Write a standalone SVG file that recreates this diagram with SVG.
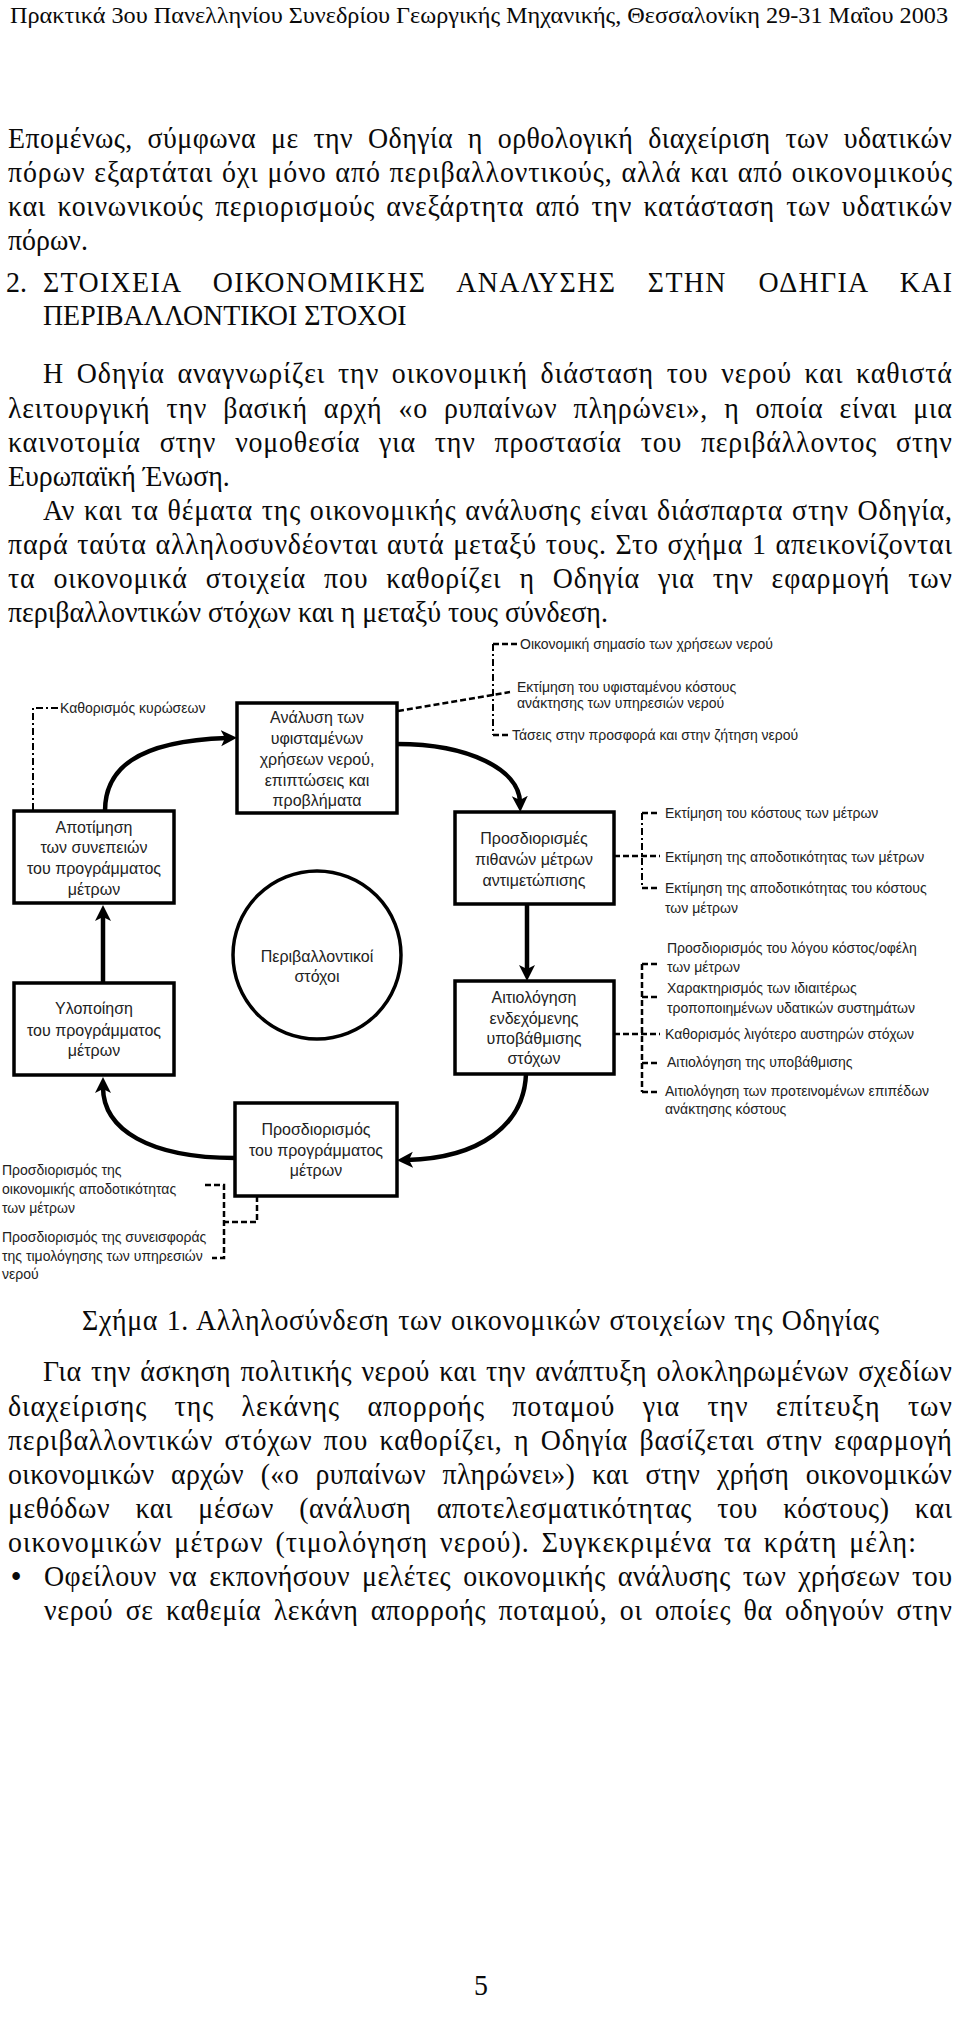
<svg xmlns="http://www.w3.org/2000/svg" width="960" height="2037" viewBox="0 0 960 2037">
<style>
.body{font-family:"Liberation Serif","Times New Roman",serif;font-size:30px;fill:#0a0a0a}
.hdr{font-family:"Liberation Serif","Times New Roman",serif;font-size:23px;fill:#0a0a0a}
.box{fill:#fff;stroke:#000;stroke-width:3.5}
.bt{font-family:"Liberation Sans",Arial,sans-serif;font-size:16px;fill:#222;text-anchor:middle}
.lb{font-family:"Liberation Sans",Arial,sans-serif;font-size:14px;fill:#222}
.arr{fill:none;stroke:#000;stroke-width:4.5;marker-end:url(#ah)}
.dash{fill:none;stroke:#000;stroke-width:2.5;stroke-dasharray:6 3}
.dd{fill:none;stroke:#000;stroke-width:2;stroke-dasharray:7 3 2 3}
</style>
<defs>
<marker id="ah" markerUnits="userSpaceOnUse" markerWidth="18" markerHeight="18" refX="6" refY="8" orient="auto">
<path d="M0,0 L16,8 L0,16 L4,8 z" fill="#000"/>
</marker>
</defs>
<rect width="960" height="2037" fill="#fff"/>

<g id="header">
<text class="hdr" x="10" y="23" textLength="938" lengthAdjust="spacingAndGlyphs">Πρακτικά 3ου Πανελληνίου Συνεδρίου Γεωργικής Μηχανικής, Θεσσαλονίκη 29-31 Μαΐου 2003</text>
</g>

<g id="para1" class="body" transform="scale(0.93,1)">
<text x="8.6" y="148" textLength="1015" lengthAdjust="spacing" word-spacing="8">Επομένως, σύμφωνα με την Οδηγία η ορθολογική διαχείριση των υδατικών</text>
<text x="8.6" y="182" textLength="1015" lengthAdjust="spacing" word-spacing="1">πόρων εξαρτάται όχι μόνο από περιβαλλοντικούς, αλλά και από οικονομικούς</text>
<text x="8.6" y="216" textLength="1015" lengthAdjust="spacing" word-spacing="4">και κοινωνικούς περιορισμούς ανεξάρτητα από την κατάσταση των υδατικών</text>
<text x="8.6" y="250">πόρων.</text>
</g>

<g id="heading" class="body" transform="scale(0.93,1)">
<text x="6.5" y="292">2.</text>
<text x="46.2" y="292" textLength="977.4" lengthAdjust="spacing" word-spacing="25">ΣΤΟΙΧΕΙΑ ΟΙΚΟΝΟΜΙΚΗΣ ΑΝΑΛΥΣΗΣ ΣΤΗΝ ΟΔΗΓΙΑ ΚΑΙ</text>
<text x="46.2" y="325">ΠΕΡΙΒΑΛΛΟΝΤΙΚΟΙ ΣΤΟΧΟΙ</text>
</g>

<g id="para2" class="body" transform="scale(0.93,1)">
<text x="46.2" y="383" textLength="977.4" lengthAdjust="spacing" word-spacing="5">Η Οδηγία αναγνωρίζει την οικονομική διάσταση του νερού και καθιστά</text>
<text x="8.6" y="418" textLength="1015" lengthAdjust="spacing" word-spacing="9">λειτουργική την βασική αρχή «ο ρυπαίνων πληρώνει», η οποία είναι μια</text>
<text x="8.6" y="452" textLength="1015" lengthAdjust="spacing" word-spacing="12">καινοτομία στην νομοθεσία για την προστασία του περιβάλλοντος στην</text>
<text x="8.6" y="486">Ευρωπαϊκή Ένωση.</text>
<text x="46.2" y="520" textLength="977.4" lengthAdjust="spacing" word-spacing="1">Αν και τα θέματα της οικονομικής ανάλυσης είναι διάσπαρτα στην Οδηγία,</text>
<text x="8.6" y="554" textLength="1015" lengthAdjust="spacing" word-spacing="1">παρά ταύτα  αλληλοσυνδέονται αυτά μεταξύ τους. Στο σχήμα 1 απεικονίζονται</text>
<text x="8.6" y="588" textLength="1015" lengthAdjust="spacing" word-spacing="11">τα οικονομικά στοιχεία που καθορίζει η Οδηγία για την εφαρμογή των</text>
<text x="8.6" y="622">περιβαλλοντικών στόχων και η μεταξύ τους σύνδεση.</text>
</g>

<g id="connectors">
<path class="arr" d="M105,811 C105,770 135,741 227,738"/>
<path class="arr" d="M397,744 C470,744 519,770 520,802"/>
<path class="arr" d="M527,904 L527,971"/>
<path class="arr" d="M526,1074 C524,1125 480,1158 407,1160"/>
<path class="arr" d="M235,1158 C150,1158 103,1130 103,1087"/>
<path class="arr" d="M103,983 L103,915"/>
<path class="dd" d="M33,810 L33,708 L58,708"/>
<path class="dash" d="M398,711 L510,692"/>
<path class="dd" d="M493,644 L493,735"/>
<path class="dash" d="M493,644 L517,644"/>
<path class="dash" d="M493,735 L510,735"/>
<path class="dash" d="M614,856 L660,856"/>
<path class="dd" d="M642,813 L642,888"/>
<path class="dash" d="M642,813 L660,813"/>
<path class="dash" d="M642,888 L660,888"/>
<path class="dash" d="M614,1034 L660,1034"/>
<path class="dash" d="M642,964 L642,1092"/>
<path class="dash" d="M642,964 L658,964"/>
<path class="dash" d="M642,997 L658,997"/>
<path class="dash" d="M642,1063 L658,1063"/>
<path class="dash" d="M642,1092 L658,1092"/>
<path class="dash" d="M205,1185 L224,1185 L224,1258 L212,1258"/>
<path class="dash" d="M257,1196 L257,1222 L224,1222"/>
</g>

<g id="node-analysi">
<rect class="box" x="237" y="703" width="160" height="110"/>
<text class="bt" x="317" y="723">Ανάλυση των</text>
<text class="bt" x="317" y="744">υφισταμένων</text>
<text class="bt" x="317" y="765">χρήσεων νερού,</text>
<text class="bt" x="317" y="786">επιπτώσεις και</text>
<text class="bt" x="317" y="806">προβλήματα</text>
</g>

<g id="node-apotimisi">
<rect class="box" x="14" y="811" width="160" height="92"/>
<text class="bt" x="94" y="833">Αποτίμηση</text>
<text class="bt" x="94" y="853">των συνεπειών</text>
<text class="bt" x="94" y="874">του προγράμματος</text>
<text class="bt" x="94" y="895">μέτρων</text>
</g>

<g id="node-prosdiorismes">
<rect class="box" x="455" y="812" width="159" height="92"/>
<text class="bt" x="534" y="844">Προσδιορισμές</text>
<text class="bt" x="534" y="865">πιθανών μέτρων</text>
<text class="bt" x="534" y="886">αντιμετώπισης</text>
</g>

<g id="node-stoxoi">
<circle cx="317" cy="955" r="84" fill="#fff" stroke="#000" stroke-width="3.5"/>
<text class="bt" x="317" y="962">Περιβαλλοντικοί</text>
<text class="bt" x="317" y="982">στόχοι</text>
</g>

<g id="node-ylopoiisi">
<rect class="box" x="14" y="983" width="160" height="92"/>
<text class="bt" x="94" y="1014">Υλοποίηση</text>
<text class="bt" x="94" y="1036">του προγράμματος</text>
<text class="bt" x="94" y="1056">μέτρων</text>
</g>

<g id="node-aitiologisi">
<rect class="box" x="455" y="981" width="159" height="93"/>
<text class="bt" x="534" y="1003">Αιτιολόγηση</text>
<text class="bt" x="534" y="1024">ενδεχόμενης</text>
<text class="bt" x="534" y="1044">υποβάθμισης</text>
<text class="bt" x="534" y="1064">στόχων</text>
</g>

<g id="node-programma">
<rect class="box" x="235" y="1103" width="162" height="93"/>
<text class="bt" x="316" y="1135">Προσδιορισμός</text>
<text class="bt" x="316" y="1156">του προγράμματος</text>
<text class="bt" x="316" y="1176">μέτρων</text>
</g>

<g id="labels" class="lb">
<text x="60" y="713">Καθορισμός κυρώσεων</text>
<text x="520" y="649">Οικονομική σημασίο των χρήσεων νερού</text>
<text x="517" y="692">Εκτίμηση του υφισταμένου κόστους</text>
<text x="517" y="708">ανάκτησης των υπηρεσιών νερού</text>
<text x="512" y="740">Τάσεις στην προσφορά και στην ζήτηση νερού</text>
<text x="665" y="818">Εκτίμηση του κόστους των μέτρων</text>
<text x="665" y="862">Εκτίμηση της αποδοτικότητας των μέτρων</text>
<text x="665" y="893">Εκτίμηση της αποδοτικότητας του κόστους</text>
<text x="665" y="913">των μέτρων</text>
<text x="667" y="953">Προσδιορισμός του λόγου κόστος/οφέλη</text>
<text x="667" y="972">των μέτρων</text>
<text x="667" y="993">Χαρακτηρισμός των ιδιαιτέρως</text>
<text x="667" y="1013">τροποποιημένων υδατικών συστημάτων</text>
<text x="665" y="1039">Καθορισμός λιγότερο αυστηρών στόχων</text>
<text x="667" y="1067">Αιτιολόγηση της υποβάθμισης</text>
<text x="665" y="1096">Αιτιολόγηση των προτεινομένων επιπέδων</text>
<text x="665" y="1114">ανάκτησης κόστους</text>
<text x="2" y="1175">Προσδιορισμός της</text>
<text x="2" y="1194">οικονομικής αποδοτικότητας</text>
<text x="2" y="1213">των μέτρων</text>
<text x="2" y="1242">Προσδιορισμός της συνεισφοράς</text>
<text x="2" y="1261">της τιμολόγησης των υπηρεσιών</text>
<text x="2" y="1279">νερού</text>
</g>

<g id="caption" class="body" transform="scale(0.93,1)">
<text x="88.2" y="1330" textLength="857" lengthAdjust="spacing" word-spacing="1">Σχήμα 1.  Αλληλοσύνδεση των οικονομικών στοιχείων της Οδηγίας</text>
</g>

<g id="para3" class="body" transform="scale(0.93,1)">
<text x="46.2" y="1381" textLength="977.4" lengthAdjust="spacing" word-spacing="2">Για την άσκηση πολιτικής νερού και την ανάπτυξη ολοκληρωμένων σχεδίων</text>
<text x="8.6" y="1416" textLength="1015" lengthAdjust="spacing" word-spacing="21">διαχείρισης της λεκάνης απορροής ποταμού για την επίτευξη των</text>
<text x="8.6" y="1450" textLength="1015" lengthAdjust="spacing" word-spacing="4">περιβαλλοντικών στόχων που καθορίζει, η Οδηγία βασίζεται στην εφαρμογή</text>
<text x="8.6" y="1484" textLength="1015" lengthAdjust="spacing" word-spacing="10">οικονομικών αρχών («ο ρυπαίνων πληρώνει») και στην χρήση οικονομικών</text>
<text x="8.6" y="1518" textLength="1015" lengthAdjust="spacing" word-spacing="19">μεθόδων και μέσων (ανάλυση αποτελεσματικότητας του κόστους) και</text>
<text x="8.6" y="1552" textLength="976.3" lengthAdjust="spacing" word-spacing="4">οικονομικών μέτρων (τιμολόγηση νερού).  Συγκεκριμένα τα κράτη μέλη:</text>
<text x="12" y="1586" font-weight="bold">•</text>
<text x="47.3" y="1586" textLength="976.3" lengthAdjust="spacing" word-spacing="5">Οφείλουν να εκπονήσουν μελέτες οικονομικής ανάλυσης των χρήσεων του</text>
<text x="47.3" y="1620" textLength="976.3" lengthAdjust="spacing" word-spacing="5">νερού σε καθεμία λεκάνη απορροής ποταμού, οι οποίες θα οδηγούν στην</text>
</g>

<g id="pagenum" class="body" transform="scale(0.93,1)">
<text x="517.2" y="1995" text-anchor="middle">5</text>
</g>
</svg>
